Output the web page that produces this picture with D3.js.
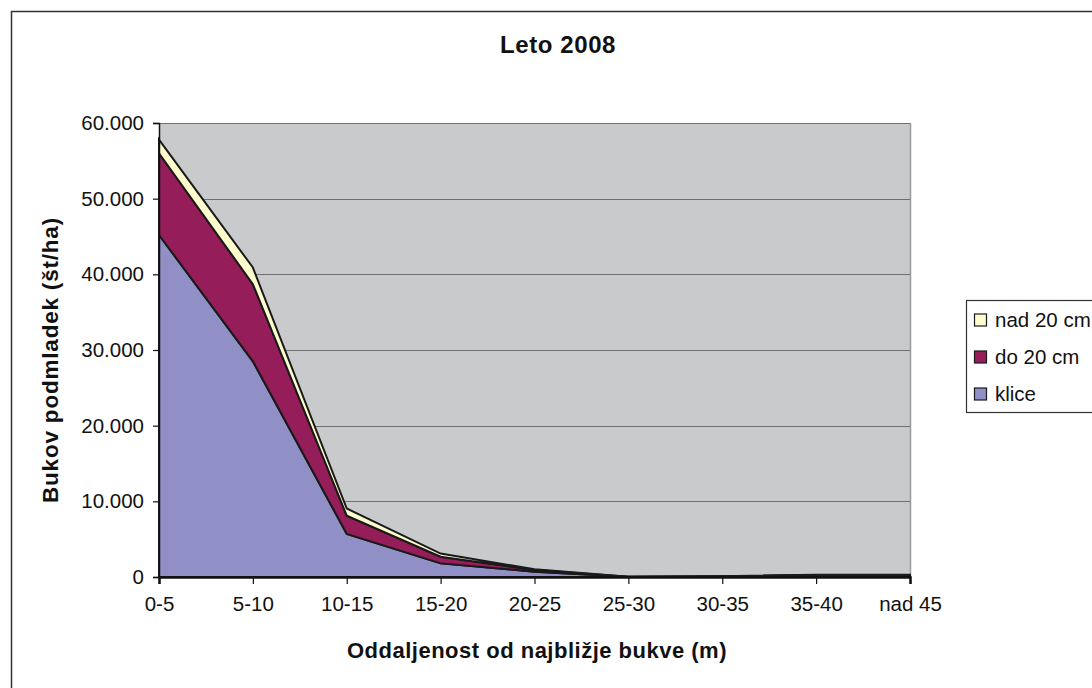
<!DOCTYPE html>
<html>
<head>
<meta charset="utf-8">
<script src="https://cdn.jsdelivr.net/npm/d3@7"></script>
<style>
  html, body { margin: 0; padding: 0; background: #fff; }
  svg { display: block; }
  text { font-family: Arial, "Liberation Sans", sans-serif; fill: #111; }
</style>
</head>
<body>
<svg id="chart" width="1092" height="688"></svg>
<script>
// Distance classes from the nearest beech (m)
const categories = ["0-5", "5-10", "10-15", "15-20", "20-25", "25-30", "30-35", "35-40", "nad 45"];

// Beech regeneration per hectare, by height class
const klice    = [45200, 28500, 5700, 1800, 700, 30, 80, 220, 230];
const do20cm   = [10800, 10200, 2400,  880, 220, 10, 20,  60,  50];
const nad20cm  = [ 1800,  2200,  950,  420, 100,  0,  0,  20,  20];

const seriesNames  = ["klice", "do 20 cm", "nad 20 cm"];
const seriesColors = ["#9090c6", "#951d5a", "#fdfdcd"];

const yTicks = [0, 10000, 20000, 30000, 40000, 50000, 60000];

const svg = d3.select("#chart");

// outer chart frame (runs past the right and bottom edges)
svg.append("rect")
  .attr("x", 11.5).attr("y", 11.5)
  .attr("width", 1200).attr("height", 800)
  .attr("fill", "#fff")
  .attr("stroke", "#333").attr("stroke-width", 1.5);

const plot = { left: 159, right: 910, top: 123, bottom: 577 };

const x = d3.scalePoint().domain(categories).range([plot.left, plot.right]);
const y = d3.scaleLinear().domain([0, 60000]).range([plot.bottom, plot.top]);

// plot background
svg.append("rect")
  .attr("x", plot.left).attr("y", plot.top)
  .attr("width", plot.right - plot.left).attr("height", plot.bottom - plot.top)
  .attr("fill", "#c9cacc");

// right edge of plot area
svg.append("line")
  .attr("x1", plot.right + 0.5).attr("x2", plot.right + 0.5)
  .attr("y1", plot.top).attr("y2", plot.bottom)
  .attr("stroke", "#9a9a9a").attr("stroke-width", 1.5);

// horizontal gridlines
svg.append("g")
  .selectAll("line")
  .data(yTicks.filter(d => d > 0))
  .join("line")
  .attr("x1", plot.left).attr("x2", plot.right)
  .attr("y1", d => Math.round(y(d)) + 0.5).attr("y2", d => Math.round(y(d)) + 0.5)
  .attr("stroke", "#6f6f6f").attr("stroke-width", 1.2);

// stacked areas
const table = categories.map((c, i) => ({
  cat: c,
  "klice": klice[i],
  "do 20 cm": do20cm[i],
  "nad 20 cm": nad20cm[i]
}));

const stacked = d3.stack().keys(seriesNames)(table);

const area = d3.area()
  .x(d => x(d.data.cat))
  .y0(d => y(d[0]))
  .y1(d => y(d[1]));

svg.append("g")
  .selectAll("path")
  .data(stacked)
  .join("path")
  .attr("d", area)
  .attr("fill", (d, i) => seriesColors[i])
  .attr("stroke", "#1a1a1a")
  .attr("stroke-width", 2)
  .attr("stroke-linejoin", "miter");

// y axis
const yAxis = d3.axisLeft(y)
  .tickValues(yTicks)
  .tickSize(6)
  .tickPadding(9)
  .tickFormat(d => d === 0 ? "0" : d3.format(",")(d).replace(/,/g, "."));

const yG = svg.append("g")
  .attr("transform", `translate(${plot.left},0)`)
  .call(yAxis);
yG.select(".domain").attr("stroke", "#111").attr("stroke-width", 1.5);
yG.selectAll(".tick line").attr("stroke", "#111").attr("stroke-width", 1.2);
yG.selectAll(".tick text")
  .attr("font-size", 20.5)
  .attr("font-family", "Arial, 'Liberation Sans', sans-serif")
  .attr("fill", "#111");

// x axis
const xAxis = d3.axisBottom(x)
  .tickSize(7)
  .tickPadding(12);

const xG = svg.append("g")
  .attr("transform", `translate(0,${plot.bottom})`)
  .call(xAxis);
xG.select(".domain").attr("stroke", "#111").attr("stroke-width", 2.5);
xG.selectAll(".tick line").attr("stroke", "#111").attr("stroke-width", 1.2);
xG.selectAll(".tick text")
  .attr("font-size", 20.5)
  .attr("font-family", "Arial, 'Liberation Sans', sans-serif")
  .attr("fill", "#111");

// titles
svg.append("text")
  .attr("x", 558).attr("y", 53)
  .attr("text-anchor", "middle")
  .attr("font-size", 24).attr("font-weight", "bold")
  .attr("letter-spacing", 0.6)
  .text("Leto 2008");

svg.append("text")
  .attr("x", 537).attr("y", 658)
  .attr("text-anchor", "middle")
  .attr("font-size", 22).attr("font-weight", "bold")
  .attr("letter-spacing", 0.5)
  .text("Oddaljenost od najbližje bukve (m)");

svg.append("text")
  .attr("transform", "translate(58,360) rotate(-90)")
  .attr("text-anchor", "middle")
  .attr("font-size", 22.5).attr("font-weight", "bold")
  .attr("letter-spacing", 0.8)
  .text("Bukov podmladek (št/ha)");

// legend
const legend = svg.append("g");
legend.append("rect")
  .attr("x", 966.5).attr("y", 300.5)
  .attr("width", 200).attr("height", 112)
  .attr("fill", "#fff").attr("stroke", "#333").attr("stroke-width", 1.2);

const legendOrder = [2, 1, 0];
legendOrder.forEach((si, k) => {
  const cy = 320 + k * 37;
  legend.append("rect")
    .attr("x", 974.5).attr("y", cy - 6)
    .attr("width", 12).attr("height", 12)
    .attr("fill", seriesColors[si])
    .attr("stroke", "#1a1a1a").attr("stroke-width", 1.2);
  legend.append("text")
    .attr("x", 995).attr("y", cy)
    .attr("dy", "0.36em")
    .attr("font-size", 20.5)
    .text(seriesNames[si]);
});
</script>
</body>
</html>
